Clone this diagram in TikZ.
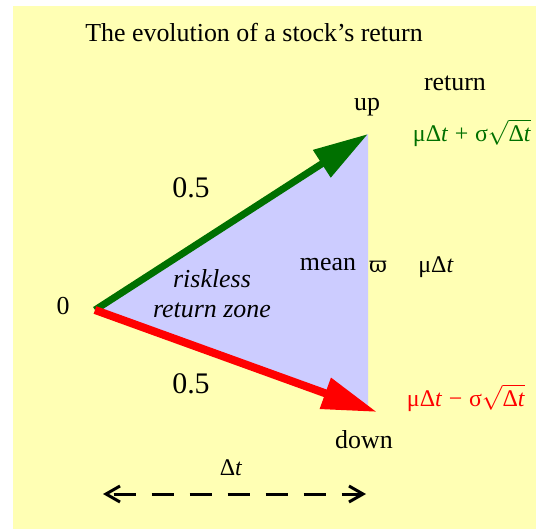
\documentclass[tikz,border=0pt]{standalone}
\usepackage{amsmath}
\usepackage{fontspec}
\setmainfont{Liberation Serif}
\newfontfamily\dejavuserif{DejaVu Serif}
\usetikzlibrary{arrows.meta}
\definecolor{bgyellow}{RGB}{255,255,180}
\definecolor{triblue}{RGB}{204,204,255}
\definecolor{dkgreen}{RGB}{0,112,0}
\tikzset{
  lbl/.style={inner sep=0pt, font=\fontsize{26}{30}\selectfont},
  prob/.style={inner sep=0pt, font=\fontsize{30}{34}\selectfont},
  formula/.style={inner sep=0pt, font=\fontsize{24}{28}\selectfont},
  bigarrow/.style={line width=#1, -{Triangle[length=55bp,width=31bp]}},
  spanarrow/.style={line width=3bp, dash pattern=on 22bp off 16bp, dash phase=32bp,
    {Straight Barb[length=14bp,width=16bp]}-{Straight Barb[length=14bp,width=16bp]}}
}
\begin{document}
\begin{tikzpicture}[x=1bp,y=-1bp]
\useasboundingbox (0,0) rectangle (536,529);
\fill[white] (0,0) rectangle (536,529);
\fill[bgyellow] (13,6) rectangle (536,529);
\coordinate (O) at (95,310);
\coordinate (U) at (368,134);
\coordinate (D) at (377,412);
\coordinate (Db) at (368,409);
\fill[triblue] (O) -- (U) -- (Db) -- cycle;
\draw[dkgreen, bigarrow=7bp] (O) -- (U);
\draw[red, bigarrow=8bp] (O) -- (D);
\node[lbl] (title) at (254,33) {The evolution of a stock’s return};
\node[lbl] (ret) at (455,83) {return};
\node[lbl] (up) at (367,107) {up};
\node[formula, text=dkgreen] (fu) at (472,133) {μΔ\textit{t}\;+\;σ$\sqrt{\text{Δ\textit{t}}}$};
\node[prob] (p1) at (191,188) {0.5};
\node[lbl, font=\fontsize{26}{30}\selectfont\itshape, align=center] (rz) at (212,294) {riskless\\return zone};
\node[lbl] (mean) at (328,265) {mean};
\node[lbl, font=\fontsize{22}{26}\selectfont\dejavuserif] (varpi) at (378,267) {ϖ};
\node[formula] (mdt) at (436,267) {μΔ\textit{t}};
\node[lbl] (zero) at (63,306) {0};
\node[prob] (p2) at (191,384) {0.5};
\node[formula, text=red] (fd) at (466,398) {μΔ\textit{t}\;−\;σ$\sqrt{\text{Δ\textit{t}}}$};
\node[lbl] (down) at (364,440) {down};
\node[formula] (dt) at (231,468) {Δ\textit{t}};
\coordinate (L) at (103,494);
\coordinate (R) at (366,494);
\draw[spanarrow] (L) -- (R);
\end{tikzpicture}
\end{document}
